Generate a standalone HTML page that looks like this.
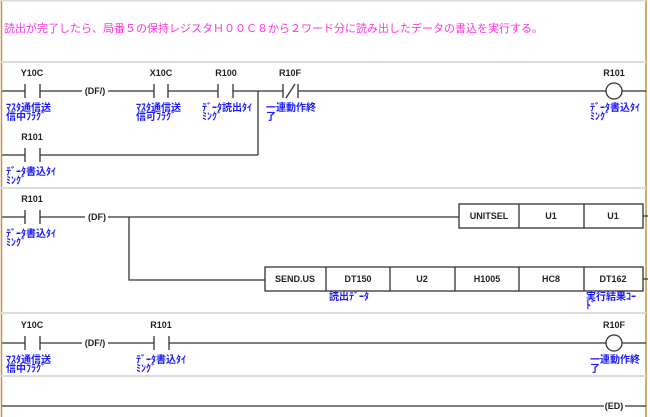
<!DOCTYPE html>
<html><head><meta charset="utf-8"><style>
html,body{margin:0;padding:0;background:#fff;}
svg{display:block;}
.n{font-family:"Liberation Sans","Noto Sans CJK JP",sans-serif;font-size:9px;fill:#222;text-anchor:middle;font-weight:bold;}
.b{font-family:"Liberation Sans","Noto Sans CJK JP",sans-serif;font-size:10px;fill:#1a1aff;font-weight:bold;}
.t{font-family:"Liberation Sans","Noto Sans CJK JP",sans-serif;font-size:9px;fill:#222;text-anchor:middle;font-weight:bold;}
</style></head><body>
<svg width="650" height="417" viewBox="0 0 650 417" xmlns="http://www.w3.org/2000/svg">
<rect width="650" height="417" fill="#fff"/>
<line x1="1.5" y1="0" x2="1.5" y2="417" stroke="#c89040" stroke-width="1.5"/>
<line x1="646" y1="0" x2="646" y2="417" stroke="#c89040" stroke-width="1.5"/>
<g stroke="#dcdcdc" stroke-width="2">
<line x1="0" y1="0.5" x2="646" y2="0.5"/>
<line x1="0" y1="62" x2="646" y2="62"/>
<line x1="0" y1="188" x2="646" y2="188"/>
<line x1="0" y1="313" x2="646" y2="313"/>
<line x1="0" y1="376" x2="646" y2="376"/>
</g>
<text x="4" y="32" style="font-family:'Liberation Sans','Noto Sans CJK JP',sans-serif;font-size:11px;fill:#ff33dd;">読出が完了したら、局番５の保持レジスタＨ００Ｃ８から２ワード分に読み出したデータの書込を実行する。</text>

<g stroke="#333" stroke-width="1.3" fill="none">
<path d="M2 91H25M40 91H82M108 91H154M168 91H218M233 91H283M298 91H606M622 91H646"/>
<path d="M25 84V98M40 84V98M154 84V98M168 84V98M218 84V98M233 84V98M283 84V98M298 84V98M286 98L295 84"/>
<path d="M258 91V155M2 155H25M40 155H258M25 148V162M40 148V162"/>
<circle cx="614" cy="91" r="8" fill="#fff"/>
<path d="M2 217H25M40 217H85M108 217H459M129 217V280H265M643 216H648M643 279H648"/>
<path d="M25 210V224M40 210V224"/>
<rect x="459" y="204" width="184" height="24" fill="#fff"/>
<path d="M519 204V228M584 204V228"/>
<rect x="265" y="267" width="378" height="24" fill="#fff"/>
<path d="M326 267V291M390 267V291M455 267V291M519 267V291M584 267V291"/>
<path d="M2 343H25M40 343H82M108 343H154M169 343H606M622 343H646"/>
<path d="M25 336V350M40 336V350M154 336V350M169 336V350"/>
<circle cx="614" cy="343" r="8" fill="#fff"/>
<path d="M2 406H604M625 406H646"/>
</g>
<g class="n">
<text x="95" y="94">(DF/)</text>
<text x="97" y="220">(DF)</text>
<text x="95" y="346">(DF/)</text>
<text x="614" y="409">(ED)</text>
<text x="32" y="76">Y10C</text>
<text x="161" y="76">X10C</text>
<text x="226" y="76">R100</text>
<text x="290" y="76">R10F</text>
<text x="614" y="76">R101</text>
<text x="32" y="140">R101</text>
<text x="32" y="202">R101</text>
<text x="32" y="328">Y10C</text>
<text x="161" y="328">R101</text>
<text x="614" y="328">R10F</text>
</g>
<g class="t">
<text x="489" y="219">UNITSEL</text><text x="551" y="219">U1</text><text x="613" y="219">U1</text>
<text x="295" y="282">SEND.US</text><text x="358" y="282">DT150</text><text x="422" y="282">U2</text><text x="487" y="282">H1005</text><text x="551" y="282">HC8</text><text x="613" y="282">DT162</text>
</g>
<g class="b">
<text x="6" y="111">ﾏｽﾀ通信送</text><text x="6" y="120">信中ﾌﾗｸﾞ</text>
<text x="136" y="111">ﾏｽﾀ通信送</text><text x="136" y="120">信可ﾌﾗｸﾞ</text>
<text x="202" y="111">ﾃﾞｰﾀ読出ﾀｲ</text><text x="202" y="120">ﾐﾝｸﾞ</text>
<text x="266" y="111">一連動作終</text><text x="266" y="120">了</text>
<text x="590" y="111">ﾃﾞｰﾀ書込ﾀｲ</text><text x="590" y="120">ﾐﾝｸﾞ</text>
<text x="6" y="175">ﾃﾞｰﾀ書込ﾀｲ</text><text x="6" y="184">ﾐﾝｸﾞ</text>
<text x="6" y="237">ﾃﾞｰﾀ書込ﾀｲ</text><text x="6" y="246">ﾐﾝｸﾞ</text>
<text x="329" y="300">読出ﾃﾞｰﾀ</text>
<text x="586" y="300">実行結果ｺｰ</text><text x="586" y="309">ﾄﾞ</text>
<text x="6" y="363">ﾏｽﾀ通信送</text><text x="6" y="372">信中ﾌﾗｸﾞ</text>
<text x="136" y="363">ﾃﾞｰﾀ書込ﾀｲ</text><text x="136" y="372">ﾐﾝｸﾞ</text>
<text x="590" y="363">一連動作終</text><text x="590" y="372">了</text>
</g>
</svg>
</body></html>
